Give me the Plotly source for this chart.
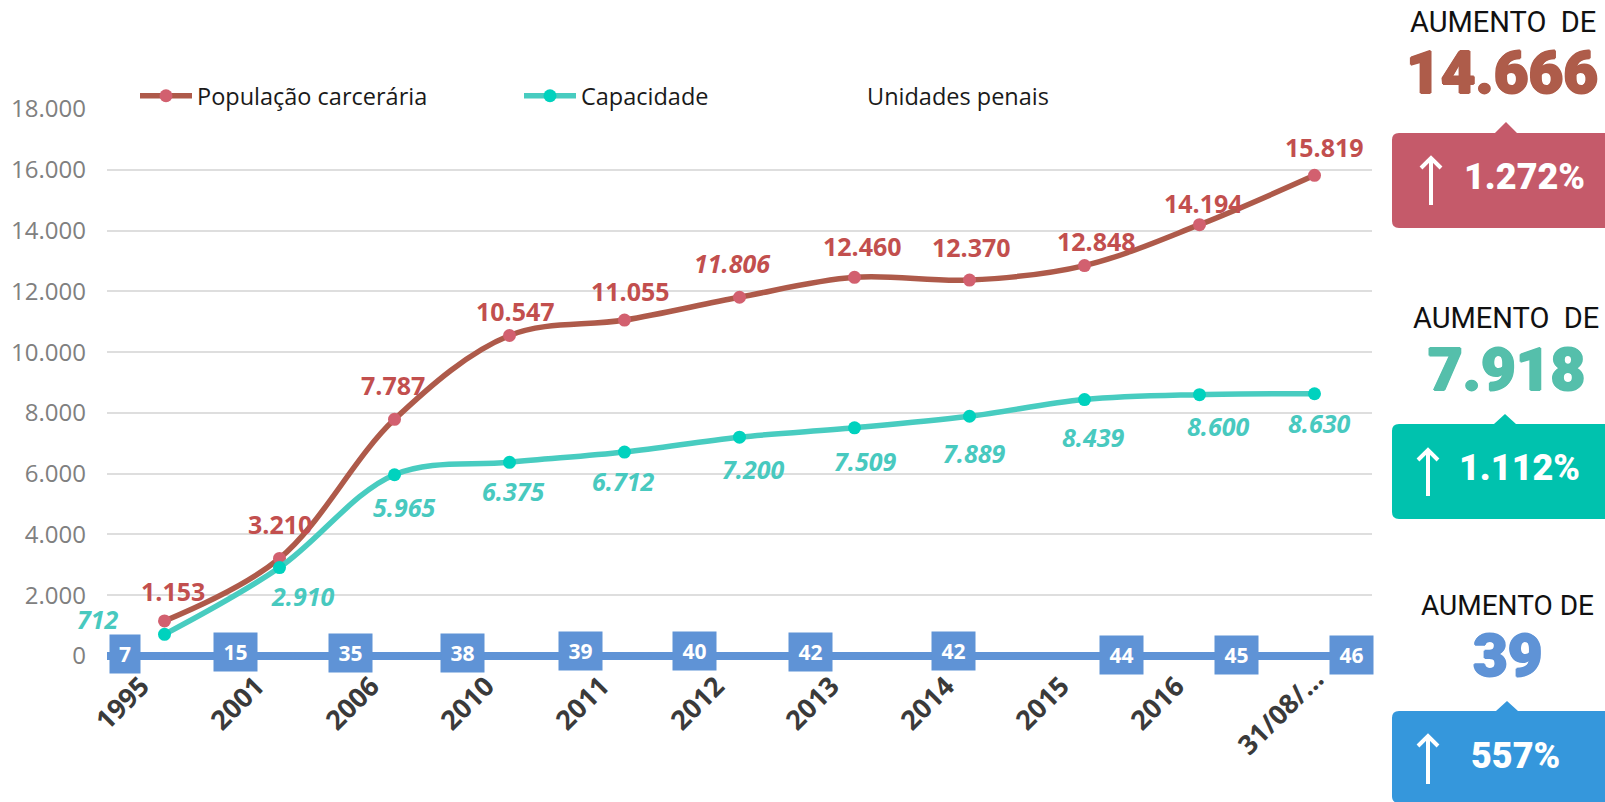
import plotly.graph_objects as go

categories = ["1995", "2001", "2006", "2010", "2011", "2012", "2013", "2014", "2015", "2016", "31/08/…"]
populacao = [1153, 3210, 7787, 10547, 11055, 11806, 12460, 12370, 12848, 14194, 15819]
capacidade = [712, 2910, 5965, 6375, 6712, 7200, 7509, 7889, 8439, 8600, 8630]
unidades = [7, 15, 35, 38, 39, 40, 42, 42, 44, 45, 46]

W, H = 1605, 802
L, R, T, B = 107, 233, 109, 138
RED, TEAL, BLUE = "#AE5A4A", "#48CCC0", "#5F93D6"


def fmt(v):
    return f"{v:,}".replace(",", ".")


def px(x):
    return (x - L) / (W - L - R)


def py(y):
    return 1 - (y - T) / (H - T - B)


pop_shift = [(8, -29), (0, -34), (-1, -34), (6, -24), (6, -28), (-7, -33), (8, -31), (2, -32), (12, -24), (4, -21), (10, -28)]
cap_shift = [(-65, -15), (22, 28), (9, 32), (3, 28), (-1, 28), (13, 31), (10, 32), (4, 36), (8, 37), (18, 31), (4, 29)]
box_shift = [(-40, 2), (-44, 3.5), (-44, 2), (-47, 2), (-44, 4), (-45, 4), (-44, 3), (-16, 4), (37, 0), (37, 0), (37, 0)]

fig = go.Figure()
fig.add_trace(go.Scatter(x=categories, y=unidades, mode="lines", line=dict(color=BLUE, width=5), showlegend=False, hoverinfo="skip"))
fig.add_trace(go.Scatter(x=categories, y=populacao, name="População carcerária", mode="lines+markers",
                         line=dict(color=RED, width=5.5, shape="spline", smoothing=1.0),
                         marker=dict(color="#D2606F", size=13), legend="legend"))
fig.add_trace(go.Scatter(x=categories, y=capacidade, name="Capacidade", mode="lines+markers",
                         line=dict(color=TEAL, width=5.5, shape="spline", smoothing=1.0),
                         marker=dict(color="#00D2BE", size=13), legend="legend2"))
fig.add_trace(go.Scatter(x=categories, y=unidades, name="Unidades penais", mode="none", legend="legend3"))

ann = []
BODY = "Open Sans"
for i, c in enumerate(categories):
    dx, dy = pop_shift[i]
    ann.append(dict(x=i, y=populacao[i], xref="x", yref="y", text=fmt(populacao[i]), showarrow=False,
                    xshift=dx * 1.0236, yshift=-dy * 1.0236,
                    font=dict(family=BODY, size=25, color="#C24F4E", weight=700, style="italic" if i == 5 else "normal")))
    dx, dy = cap_shift[i]
    ann.append(dict(x=i, y=capacidade[i], xref="x", yref="y", text=fmt(capacidade[i]), showarrow=False,
                    xshift=dx * 1.0236, yshift=-dy * 1.0236,
                    font=dict(family=BODY, size=25, color="#48C9BF", weight=700, style="italic")))
    dx, dy = box_shift[i]
    ann.append(dict(x=i, y=unidades[i], xref="x", yref="y", text=str(unidades[i]), showarrow=False,
                    xshift=dx, yshift=dy, width=30 if i == 0 else 43, height=38, bgcolor=BLUE, borderpad=0,
                    font=dict(family=BODY, size=21, color="white", weight=700)))

TICKFONT = dict(family=BODY, size=27, color="#3A3A3A", weight=700)
ann.append(dict(x=10, y=py(711), xref="x", yref="paper", text=categories[10], showarrow=False, textangle=-45,
                xanchor="center", yanchor="middle", xshift=-35, font=TICKFONT))

HEAD = "Roboto"
NUM = "Roboto"


def side(text, cx, cy, size, color, family, weight, heavy=False):
    font = dict(family=family, size=size, color=color, weight=weight)
    if heavy:
        font["shadow"] = f"1px 0 0 {color}, -1px 0 0 {color}, 0 1px 0 {color}, 0 -1px 0 {color}"
    ann.append(dict(x=px(cx), y=py(cy), xref="paper", yref="paper", text=text, showarrow=False,
                    xanchor="center", yanchor="middle", font=font))


side("AUMENTO\u00a0\u00a0DE", 1503, 22, 29, "#111111", HEAD, 400)
side("AUMENTO\u00a0\u00a0DE", 1506, 318, 29, "#111111", HEAD, 400)
side("AUMENTO DE", 1507, 605, 28, "#111111", HEAD, 400)
side("14.666", 1502, 72, 60, "#AE5C4A", NUM, 900, True)
side("7.918", 1506, 369, 60, "#55BFAB", NUM, 900, True)
side("39", 1507.5, 655, 60, BLUE, NUM, 900, True)
side("1.272%", 1524.5, 177, 36, "white", NUM, 900)
side("1.112%", 1519, 468, 36, "white", NUM, 900)
side("557%", 1515, 756, 36, "white", NUM, 900)


def P(x, y):
    return f"{px(x):.5f},{py(y):.5f}"


def callout(y0, y1, apex_x, apex_y, color):
    r = 7
    x0, x1 = 1392, 1605
    d = (f"M{P(x0 + r, y0)} L{P(apex_x - 11, y0)} L{P(apex_x, apex_y)} L{P(apex_x + 11, y0)} L{P(x1, y0)} "
         f"L{P(x1, y1)} L{P(x0 + r, y1)} Q{P(x0, y1)} {P(x0, y1 - r)} L{P(x0, y0 + r)} Q{P(x0, y0)} {P(x0 + r, y0)} Z")
    return dict(type="path", path=d, xref="paper", yref="paper", fillcolor=color, line=dict(width=0), layer="below")


def arrow(x, y0, y1):
    d = f"M{P(x, y1)} L{P(x, y0)} M{P(x - 10, y0 + 10)} L{P(x, y0)} L{P(x + 10, y0 + 10)}"
    return dict(type="path", path=d, xref="paper", yref="paper", line=dict(color="white", width=4))


shapes = [
    callout(133, 228, 1506, 122, "#C55A6A"),
    callout(424, 519, 1505, 414, "#00C2AE"),
    callout(711, 803, 1507, 701, "#3597DC"),
    arrow(1431, 158, 205),
    arrow(1428, 450, 496),
    arrow(1428, 736, 784),
]


def legend_at(x, y):
    return dict(x=px(x), y=py(y), xanchor="left", yanchor="middle", xref="paper", yref="paper",
                bgcolor="rgba(0,0,0,0)", itemwidth=52, font=dict(family=BODY, size=23.5, color="#1a1a1a"))


fig.update_layout(
    width=W, height=H, autosize=False,
    margin=dict(l=L, r=R, t=T, b=B),
    paper_bgcolor="white", plot_bgcolor="white",
    separators=",.",
    font=dict(family=BODY),
    annotations=ann, shapes=shapes,
    legend=legend_at(135, 96), legend2=legend_at(519, 96), legend3=legend_at(805, 96),
    xaxis=dict(type="category", range=[-0.5, 10.5], showgrid=False, showline=False, ticks="", tickangle=-45,
               tickmode="array", tickvals=categories[:10], ticktext=categories[:10],
               ticklabelshift=-23, ticklabelstandoff=0, tickfont=TICKFONT),
    yaxis=dict(range=[-263, 18000], tick0=0, dtick=2000, tickformat=",d", gridcolor="#DEDEDE", gridwidth=2,
               zeroline=True, zerolinecolor=BLUE, zerolinewidth=8, showline=False, ticks="",
               ticklabelstandoff=20, tickfont=dict(family=BODY, size=24, color="#808080")),
)

fig.write_html("out.html", config=dict(displayModeBar=False),
               post_script="document.body.style.margin='0';document.body.style.overflow='hidden';")
